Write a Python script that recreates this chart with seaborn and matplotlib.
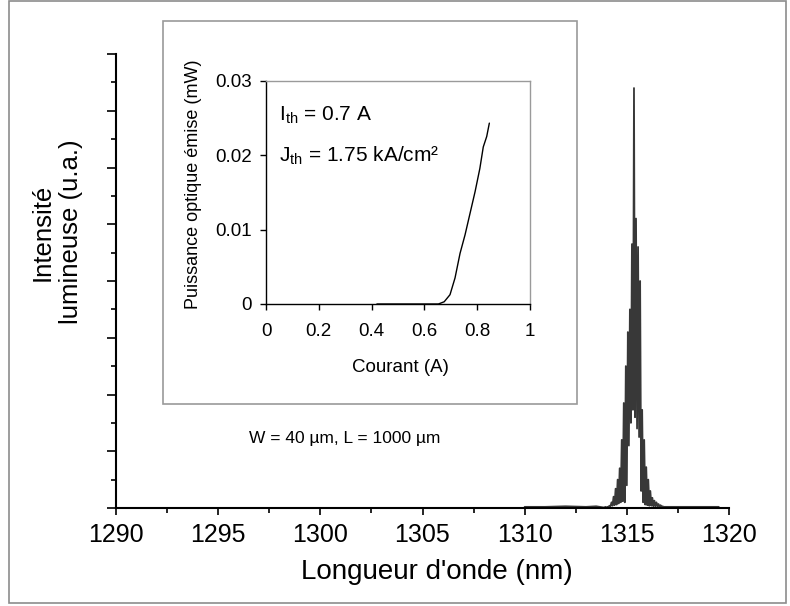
import matplotlib
matplotlib.use("Agg")
import matplotlib.pyplot as plt
import seaborn as sns
import pandas as pd
import numpy as np
from matplotlib.patches import Rectangle
from matplotlib.ticker import MultipleLocator

sns.set_theme(style="white")
plt.rcParams['font.family'] = ['Liberation Sans', 'DejaVu Sans']

# ---- spectrum data (wavelength nm, intensity a.u.) ----
wl_upper = [1313.85, 1313.95, 1314.05, 1314.15, 1314.25, 1314.35, 1314.45, 1314.55,
            1314.65, 1314.75, 1314.85, 1314.95, 1315.05, 1315.15, 1315.25, 1315.35,
            1315.45, 1315.55, 1315.65, 1315.75, 1315.85, 1315.95, 1316.05, 1316.15,
            1316.25, 1316.35, 1316.45, 1316.55, 1316.65, 1316.75, 1316.85]
int_upper = [0.01, 0.02, 0.02, 0.04, 0.10, 0.20, 0.34, 0.50,
             0.70, 1.20, 1.85, 2.50, 3.10, 3.50, 4.65, 7.40,
             5.10, 4.60, 4.00, 1.73, 1.20, 0.72, 0.50, 0.30,
             0.18, 0.13, 0.10, 0.07, 0.05, 0.03, 0.02]
wl_lower = [1313.90, 1314.00, 1314.10, 1314.20, 1314.30, 1314.40, 1314.50, 1314.60,
            1314.70, 1314.80, 1314.90, 1315.00, 1315.10, 1315.20, 1315.30, 1315.40,
            1315.50, 1315.60, 1315.70, 1315.80, 1315.90, 1316.00, 1316.10, 1316.20,
            1316.30, 1316.40, 1316.50, 1316.60, 1316.70, 1316.80]
int_lower = [0.01, 0.01, 0.02, 0.03, 0.04, 0.05, 0.06, 0.08,
             0.10, 0.12, 0.10, 0.40, 1.10, 1.50, 1.73, 1.60,
             1.40, 1.25, 0.30, 0.10, 0.06, 0.05, 0.04, 0.04,
             0.03, 0.03, 0.03, 0.02, 0.02, 0.02]
wl_base = [1310.0, 1311.0, 1312.0, 1313.0, 1313.5, 1317.2, 1318.0, 1319.0, 1319.5]
int_base = [0.02, 0.02, 0.03, 0.02, 0.03, 0.02, 0.02, 0.02, 0.02]

# ---- inset L-I data ----
current = [0.42, 0.50, 0.60, 0.653, 0.675, 0.697, 0.716, 0.735, 0.754,
           0.773, 0.792, 0.810, 0.823, 0.836, 0.846]
power = [0.0, 0.0, 0.0, 0.0, 0.0003, 0.00125, 0.0035, 0.0068, 0.0093,
         0.0122, 0.0151, 0.0182, 0.0211, 0.0225, 0.0243]

x_ticks = [1290, 1295, 1300, 1305, 1310, 1315, 1320]
inset_xticks = [0, 0.2, 0.4, 0.6, 0.8, 1]
inset_xlabels = ["0", "0.2", "0.4", "0.6", "0.8", "1"]
inset_yticks = [0, 0.01, 0.02, 0.03]
inset_ylabels = ["0", "0.01", "0.02", "0.03"]

spec = pd.DataFrame({
    "wl": wl_upper + wl_lower + wl_base,
    "I": int_upper + int_lower + int_base,
}).sort_values("wl")
li = pd.DataFrame({"I": current, "P": power})

W, H = 790, 606
fig = plt.figure(figsize=(W / 100, H / 100), dpi=100)
fig.patch.set_facecolor("white")

def fx(px):
    return px / W

def fy(py):
    return 1 - py / H

# outer chart frame
fig.add_artist(Rectangle((fx(9), fy(603)), fx(786) - fx(9), fy(1) - fy(603),
                         transform=fig.transFigure, fill=False,
                         edgecolor="#8c8c8c", linewidth=1.2, zorder=0))

# main axes
ax = fig.add_axes([fx(116), fy(508), fx(729) - fx(116), fy(54) - fy(508)])
ax.set_facecolor("none")
sns.lineplot(data=spec, x="wl", y="I", ax=ax, color="#383838", linewidth=1.3,
             estimator=None, sort=True)
ax.set_xlim(1290, 1320)
ax.set_ylim(0, 8)
ax.set_xticks(x_ticks)
ax.set_xticklabels([str(t) for t in x_ticks], fontsize=18)
ax.xaxis.set_minor_locator(MultipleLocator(2.5))
ax.yaxis.set_major_locator(MultipleLocator(1))
ax.yaxis.set_minor_locator(MultipleLocator(0.5))
ax.set_yticklabels([])
for s in ["top", "right"]:
    ax.spines[s].set_visible(False)
for s in ["left", "bottom"]:
    ax.spines[s].set_color("black")
    ax.spines[s].set_linewidth(1.5)
ax.tick_params(axis="x", which="major", direction="out", length=5, width=1.2,
               color="black", pad=6, labelcolor="black", bottom=True)
ax.tick_params(axis="x", which="minor", direction="out", length=3.6, width=1.2,
               color="black", bottom=True)
ax.tick_params(axis="y", which="major", direction="out", length=6.7, width=1.2,
               color="black", left=True)
ax.tick_params(axis="y", which="minor", direction="out", length=3.6, width=1.2,
               color="black", left=True)
ax.set_xlabel("")
ax.set_ylabel("")
fig.text(fx(437), fy(572), "Longueur d'onde (nm)", fontsize=20,
         ha="center", va="center", color="black")
fig.text(fx(57), fy(232), "Intensité\nlumineuse (u.a.)", fontsize=18.5,
         rotation=90, ha="center", va="center", multialignment="center",
         color="black", linespacing=1.2)

# inset frame
fig.add_artist(Rectangle((fx(163), fy(404)), fx(577) - fx(163), fy(21) - fy(404),
                         transform=fig.transFigure, facecolor="white",
                         edgecolor="#9a9a9a", linewidth=1.2, zorder=1))

# inset axes
iax = fig.add_axes([fx(266), fy(304), fx(530) - fx(266), fy(80.7) - fy(304)])
iax.set_zorder(2)
iax.set_facecolor("white")
sns.lineplot(data=li, x="I", y="P", ax=iax, color="black", linewidth=1.0,
             estimator=None, sort=True)
iax.set_xlim(0, 1)
iax.set_ylim(0, 0.03)
iax.set_xticks(inset_xticks)
iax.set_xticklabels(inset_xlabels, fontsize=13.5)
iax.set_yticks(inset_yticks)
iax.set_yticklabels(inset_ylabels, fontsize=13.5)
for s in ["left", "bottom"]:
    iax.spines[s].set_color("black")
    iax.spines[s].set_linewidth(1.0)
for s in ["top", "right"]:
    iax.spines[s].set_color("#9a9a9a")
    iax.spines[s].set_linewidth(1.0)
iax.tick_params(axis="x", direction="out", length=4, width=1.0,
                color="black", labelcolor="black", pad=10, bottom=True)
iax.tick_params(axis="y", direction="out", length=4, width=1.0,
                color="black", labelcolor="black", pad=6, left=True)
iax.set_xlabel("")
iax.set_ylabel("")
fig.text(fx(400), fy(367), "Courant (A)", fontsize=13.5, ha="center", va="center",
         color="black", zorder=3)
fig.text(fx(193), fy(184), "Puissance optique émise (mW)", fontsize=13,
         rotation=90, ha="center", va="center", color="black", zorder=3)
iax.text(0.05, 0.0254, r"I$_{\mathregular{th}}$ = 0.7 A", fontsize=15, color="black",
         ha="left", va="center")
iax.text(0.05, 0.0199, r"J$_{\mathregular{th}}$ = 1.75 kA/cm²",
         fontsize=15, color="black", ha="left", va="center")

fig.text(fx(345), fy(438), "W = 40 µm, L = 1000 µm", fontsize=12.5,
         ha="center", va="center", color="black", zorder=3)

fig.savefig("out.png", dpi=100, facecolor="white")
